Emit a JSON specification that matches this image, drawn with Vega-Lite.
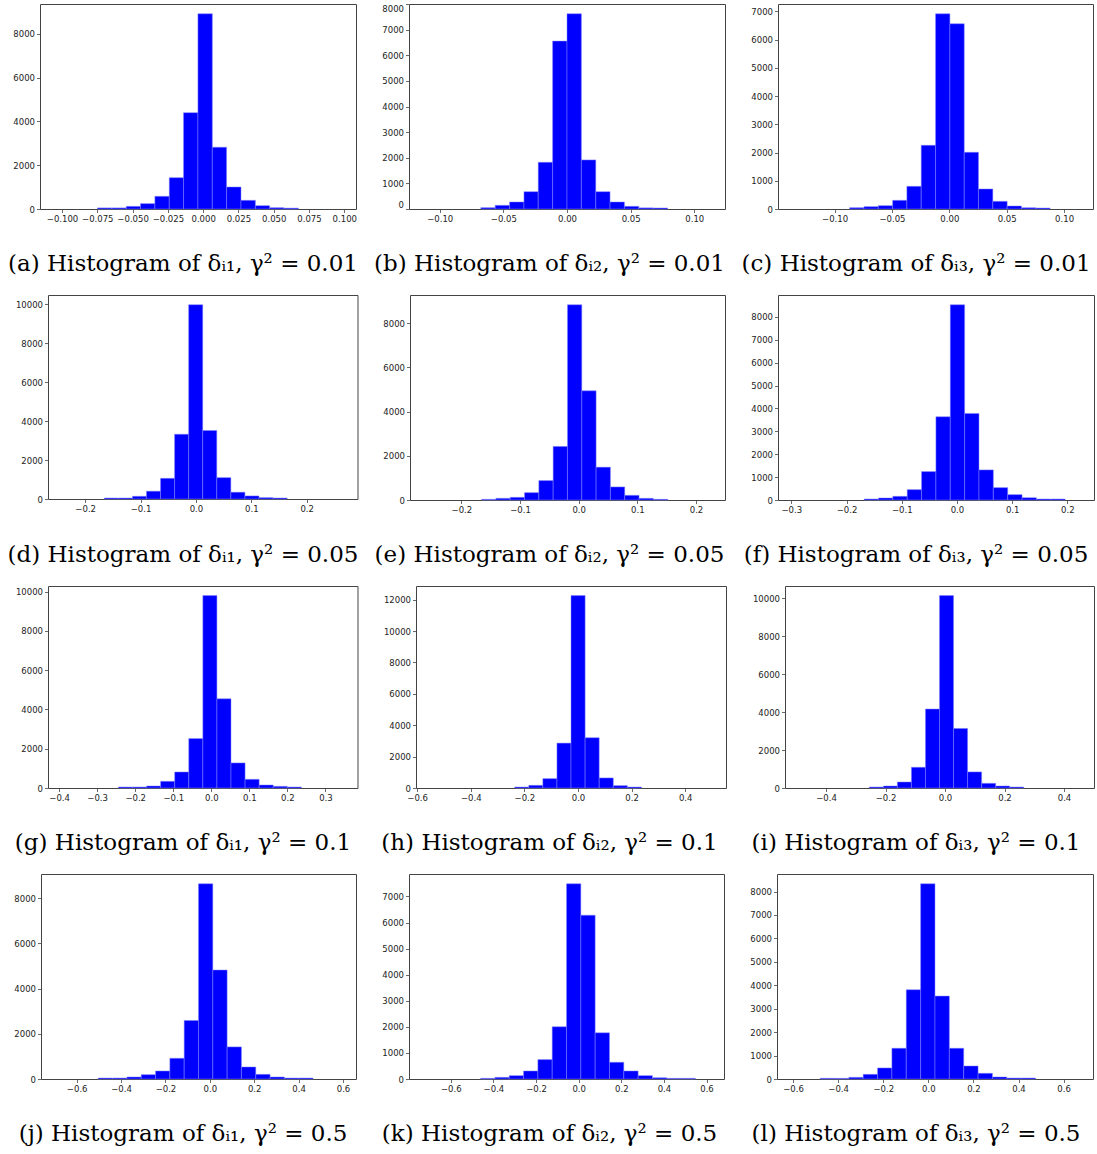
{
"$schema": "https://vega.github.io/schema/vega-lite/v6.json",
"padding": {"left": 0, "top": 3, "right": 0, "bottom": 0},
"spacing": 18,
"columns": 1,
"align": "none",
"datasets": {
"hist": [
{"panel":"a","x0":-0.0749,"x1":-0.0647,"count":50},{"panel":"a","x0":-0.0647,"x1":-0.0545,"count":50},{"panel":"a","x0":-0.0545,"x1":-0.0444,"count":120},{"panel":"a","x0":-0.0444,"x1":-0.0342,"count":245},{"panel":"a","x0":-0.0342,"x1":-0.024,"count":580},{"panel":"a","x0":-0.024,"x1":-0.0139,"count":1430},{"panel":"a","x0":-0.0139,"x1":-0.0037,"count":4400},{"panel":"a","x0":-0.0037,"x1":0.0065,"count":8915},{"panel":"a","x0":0.0065,"x1":0.0166,"count":2820},{"panel":"a","x0":0.0166,"x1":0.0268,"count":1005},{"panel":"a","x0":0.0268,"x1":0.037,"count":396},{"panel":"a","x0":0.037,"x1":0.0471,"count":152},{"panel":"a","x0":0.0471,"x1":0.0573,"count":60},{"panel":"a","x0":0.0573,"x1":0.0675,"count":40},
{"panel":"b","x0":-0.0677,"x1":-0.0564,"count":52},{"panel":"b","x0":-0.0564,"x1":-0.0451,"count":143},{"panel":"b","x0":-0.0451,"x1":-0.0338,"count":274},{"panel":"b","x0":-0.0338,"x1":-0.0226,"count":678},{"panel":"b","x0":-0.0226,"x1":-0.0113,"count":1824},{"panel":"b","x0":-0.0113,"x1":0.0,"count":6554},{"panel":"b","x0":0.0,"x1":0.0113,"count":7622},{"panel":"b","x0":0.0113,"x1":0.0226,"count":1915},{"panel":"b","x0":0.0226,"x1":0.0338,"count":678},{"panel":"b","x0":0.0338,"x1":0.0451,"count":274},{"panel":"b","x0":0.0451,"x1":0.0564,"count":104},{"panel":"b","x0":0.0564,"x1":0.0677,"count":45},{"panel":"b","x0":0.0677,"x1":0.079,"count":40},
{"panel":"c","x0":-0.0869,"x1":-0.0744,"count":47},{"panel":"c","x0":-0.0744,"x1":-0.0619,"count":83},{"panel":"c","x0":-0.0619,"x1":-0.0494,"count":118},{"panel":"c","x0":-0.0494,"x1":-0.037,"count":307},{"panel":"c","x0":-0.037,"x1":-0.0245,"count":804},{"panel":"c","x0":-0.0245,"x1":-0.012,"count":2258},{"panel":"c","x0":-0.012,"x1":0.0005,"count":6917},{"panel":"c","x0":0.0005,"x1":0.013,"count":6563},{"panel":"c","x0":0.013,"x1":0.0254,"count":2010},{"panel":"c","x0":0.0254,"x1":0.0379,"count":709},{"panel":"c","x0":0.0379,"x1":0.0504,"count":272},{"panel":"c","x0":0.0504,"x1":0.0629,"count":106},{"panel":"c","x0":0.0629,"x1":0.0754,"count":47},{"panel":"c","x0":0.0754,"x1":0.0878,"count":35},
{"panel":"d","x0":-0.1655,"x1":-0.1401,"count":52},{"panel":"d","x0":-0.1401,"x1":-0.1147,"count":52},{"panel":"d","x0":-0.1147,"x1":-0.0893,"count":139},{"panel":"d","x0":-0.0893,"x1":-0.0639,"count":400},{"panel":"d","x0":-0.0639,"x1":-0.0385,"count":1061},{"panel":"d","x0":-0.0385,"x1":-0.0131,"count":3322},{"panel":"d","x0":-0.0131,"x1":0.0123,"count":9965},{"panel":"d","x0":0.0123,"x1":0.0377,"count":3513},{"panel":"d","x0":0.0377,"x1":0.0631,"count":1096},{"panel":"d","x0":0.0631,"x1":0.0885,"count":348},{"panel":"d","x0":0.0885,"x1":0.1139,"count":157},{"panel":"d","x0":0.1139,"x1":0.1393,"count":70},{"panel":"d","x0":0.1393,"x1":0.1647,"count":52},
{"panel":"e","x0":-0.1655,"x1":-0.1411,"count":30},{"panel":"e","x0":-0.1411,"x1":-0.1167,"count":76},{"panel":"e","x0":-0.1167,"x1":-0.0923,"count":121},{"panel":"e","x0":-0.0923,"x1":-0.0679,"count":333},{"panel":"e","x0":-0.0679,"x1":-0.0435,"count":879},{"panel":"e","x0":-0.0435,"x1":-0.0191,"count":2424},{"panel":"e","x0":-0.0191,"x1":0.0053,"count":8833},{"panel":"e","x0":0.0053,"x1":0.0297,"count":4939},{"panel":"e","x0":0.0297,"x1":0.0541,"count":1485},{"panel":"e","x0":0.0541,"x1":0.0785,"count":591},{"panel":"e","x0":0.0785,"x1":0.1029,"count":212},{"panel":"e","x0":0.1029,"x1":0.1273,"count":76},{"panel":"e","x0":0.1273,"x1":0.1517,"count":30},
{"panel":"f","x0":-0.1681,"x1":-0.1421,"count":44},{"panel":"f","x0":-0.1421,"x1":-0.1161,"count":88},{"panel":"f","x0":-0.1161,"x1":-0.0901,"count":161},{"panel":"f","x0":-0.0901,"x1":-0.0641,"count":453},{"panel":"f","x0":-0.0641,"x1":-0.0381,"count":1241},{"panel":"f","x0":-0.0381,"x1":-0.0121,"count":3635},{"panel":"f","x0":-0.0121,"x1":0.0139,"count":8526},{"panel":"f","x0":0.0139,"x1":0.0399,"count":3781},{"panel":"f","x0":0.0399,"x1":0.0659,"count":1314},{"panel":"f","x0":0.0659,"x1":0.0919,"count":540},{"panel":"f","x0":0.0919,"x1":0.1179,"count":234},{"panel":"f","x0":0.1179,"x1":0.1439,"count":102},{"panel":"f","x0":0.1439,"x1":0.1699,"count":44},{"panel":"f","x0":0.1699,"x1":0.1959,"count":44},
{"panel":"g","x0":-0.2442,"x1":-0.2072,"count":51},{"panel":"g","x0":-0.2072,"x1":-0.1702,"count":51},{"panel":"g","x0":-0.1702,"x1":-0.1332,"count":102},{"panel":"g","x0":-0.1332,"x1":-0.0962,"count":340},{"panel":"g","x0":-0.0962,"x1":-0.0592,"count":816},{"panel":"g","x0":-0.0592,"x1":-0.0222,"count":2517},{"panel":"g","x0":-0.0222,"x1":0.0148,"count":9796},{"panel":"g","x0":0.0148,"x1":0.0518,"count":4541},{"panel":"g","x0":0.0518,"x1":0.0888,"count":1276},{"panel":"g","x0":0.0888,"x1":0.1258,"count":442},{"panel":"g","x0":0.1258,"x1":0.1628,"count":153},{"panel":"g","x0":0.1628,"x1":0.1998,"count":85},{"panel":"g","x0":0.1998,"x1":0.2368,"count":51},
{"panel":"h","x0":-0.2362,"x1":-0.1836,"count":64},{"panel":"h","x0":-0.1836,"x1":-0.1311,"count":171},{"panel":"h","x0":-0.1311,"x1":-0.0785,"count":598},{"panel":"h","x0":-0.0785,"x1":-0.026,"count":2861},{"panel":"h","x0":-0.026,"x1":0.0266,"count":12257},{"panel":"h","x0":0.0266,"x1":0.0791,"count":3203},{"panel":"h","x0":0.0791,"x1":0.1317,"count":641},{"panel":"h","x0":0.1317,"x1":0.1842,"count":150},{"panel":"h","x0":0.1842,"x1":0.2368,"count":64},
{"panel":"i","x0":-0.2545,"x1":-0.2073,"count":53},{"panel":"i","x0":-0.2073,"x1":-0.1601,"count":106},{"panel":"i","x0":-0.1601,"x1":-0.1129,"count":317},{"panel":"i","x0":-0.1129,"x1":-0.0657,"count":1093},{"panel":"i","x0":-0.0657,"x1":-0.0185,"count":4162},{"panel":"i","x0":-0.0185,"x1":0.0287,"count":10141},{"panel":"i","x0":0.0287,"x1":0.0759,"count":3139},{"panel":"i","x0":0.0759,"x1":0.1231,"count":847},{"panel":"i","x0":0.1231,"x1":0.1703,"count":247},{"panel":"i","x0":0.1703,"x1":0.2175,"count":106},{"panel":"i","x0":0.2175,"x1":0.2647,"count":53},
{"panel":"j","x0":-0.5027,"x1":-0.4382,"count":44},{"panel":"j","x0":-0.4382,"x1":-0.3737,"count":44},{"panel":"j","x0":-0.3737,"x1":-0.3091,"count":89},{"panel":"j","x0":-0.3091,"x1":-0.2446,"count":192},{"panel":"j","x0":-0.2446,"x1":-0.1801,"count":355},{"panel":"j","x0":-0.1801,"x1":-0.1156,"count":917},{"panel":"j","x0":-0.1156,"x1":-0.0511,"count":2589},{"panel":"j","x0":-0.0511,"x1":0.0134,"count":8639},{"panel":"j","x0":0.0134,"x1":0.0779,"count":4822},{"panel":"j","x0":0.0779,"x1":0.1424,"count":1420},{"panel":"j","x0":0.1424,"x1":0.207,"count":533},{"panel":"j","x0":0.207,"x1":0.2715,"count":207},{"panel":"j","x0":0.2715,"x1":0.336,"count":89},{"panel":"j","x0":0.336,"x1":0.4005,"count":44},{"panel":"j","x0":0.4005,"x1":0.465,"count":44},
{"panel":"k","x0":-0.4602,"x1":-0.393,"count":26},{"panel":"k","x0":-0.393,"x1":-0.3258,"count":64},{"panel":"k","x0":-0.3258,"x1":-0.2586,"count":128},{"panel":"k","x0":-0.2586,"x1":-0.1914,"count":308},{"panel":"k","x0":-0.1914,"x1":-0.1242,"count":745},{"panel":"k","x0":-0.1242,"x1":-0.057,"count":2004},{"panel":"k","x0":-0.057,"x1":0.0102,"count":7488},{"panel":"k","x0":0.0102,"x1":0.0774,"count":6281},{"panel":"k","x0":0.0774,"x1":0.1446,"count":1772},{"panel":"k","x0":0.1446,"x1":0.2118,"count":642},{"panel":"k","x0":0.2118,"x1":0.279,"count":308},{"panel":"k","x0":0.279,"x1":0.3462,"count":128},{"panel":"k","x0":0.3462,"x1":0.4134,"count":51},{"panel":"k","x0":0.4134,"x1":0.4806,"count":26},{"panel":"k","x0":0.4806,"x1":0.5478,"count":26},
{"panel":"l","x0":-0.48,"x1":-0.4163,"count":29},{"panel":"l","x0":-0.4163,"x1":-0.3526,"count":29},{"panel":"l","x0":-0.3526,"x1":-0.2889,"count":71},{"panel":"l","x0":-0.2889,"x1":-0.2252,"count":200},{"panel":"l","x0":-0.2252,"x1":-0.1615,"count":471},{"panel":"l","x0":-0.1615,"x1":-0.0978,"count":1312},{"panel":"l","x0":-0.0978,"x1":-0.0341,"count":3809},{"panel":"l","x0":-0.0341,"x1":0.0296,"count":8331},{"panel":"l","x0":0.0296,"x1":0.0933,"count":3538},{"panel":"l","x0":0.0933,"x1":0.157,"count":1312},{"panel":"l","x0":0.157,"x1":0.2207,"count":556},{"panel":"l","x0":0.2207,"x1":0.2844,"count":243},{"panel":"l","x0":0.2844,"x1":0.3481,"count":86},{"panel":"l","x0":0.3481,"x1":0.4118,"count":43},{"panel":"l","x0":0.4118,"x1":0.4755,"count":43}
],
"captions": [
{"row":1,"col":1,"label":"(a) Histogram of δᵢ₁, γ² = 0.01"},{"row":1,"col":2,"label":"(b) Histogram of δᵢ₂, γ² = 0.01"},{"row":1,"col":3,"label":"(c) Histogram of δᵢ₃, γ² = 0.01"},
{"row":2,"col":1,"label":"(d) Histogram of δᵢ₁, γ² = 0.05"},{"row":2,"col":2,"label":"(e) Histogram of δᵢ₂, γ² = 0.05"},{"row":2,"col":3,"label":"(f) Histogram of δᵢ₃, γ² = 0.05"},
{"row":3,"col":1,"label":"(g) Histogram of δᵢ₁, γ² = 0.1"},{"row":3,"col":2,"label":"(h) Histogram of δᵢ₂, γ² = 0.1"},{"row":3,"col":3,"label":"(i) Histogram of δᵢ₃, γ² = 0.1"},
{"row":4,"col":1,"label":"(j) Histogram of δᵢ₁, γ² = 0.5"},{"row":4,"col":2,"label":"(k) Histogram of δᵢ₂, γ² = 0.5"},{"row":4,"col":3,"label":"(l) Histogram of δᵢ₃, γ² = 0.5"}
]
},
"concat": [
{"hconcat": [
{"width":12,"height":10,"view":{"stroke":null},"data":{"values":[]},"mark":"rect"},
{"hconcat": [
{"width":316,"height":205,"data":{"name":"hist"},"transform":[{"filter":"datum.panel==='a'"}],"mark":"bar","encoding":{"x":{"field":"x0","type":"quantitative","scale":{"domain":[-0.1156,0.1083],"nice":false,"zero":false},"axis":{"values":[-0.1,-0.075,-0.05,-0.025,0,0.025,0.05,0.075,0.1],"format":".3f"}},"x2":{"field":"x1"},"y":{"field":"count","type":"quantitative","scale":{"domain":[0,9361],"nice":false},"axis":{"values":[0,2000,4000,6000,8000],"format":"d"}},"y2":{"datum":0}}},
{"width":316,"height":205,"data":{"name":"hist"},"transform":[{"filter":"datum.panel==='b'"}],"mark":"bar","encoding":{"x":{"field":"x0","type":"quantitative","scale":{"domain":[-0.1241,0.1241],"nice":false,"zero":false},"axis":{"values":[-0.1,-0.05,0,0.05,0.1],"format":".2f"}},"x2":{"field":"x1"},"y":{"field":"count","type":"quantitative","scale":{"domain":[0,8003],"nice":false},"axis":{"values":[0,1000,2000,3000,4000,5000,6000,7000,8000],"format":"d","labelFlush":1}},"y2":{"datum":0}}},
{"width":315,"height":205,"data":{"name":"hist"},"transform":[{"filter":"datum.panel==='c'"}],"mark":"bar","encoding":{"x":{"field":"x0","type":"quantitative","scale":{"domain":[-0.1493,0.1252],"nice":false,"zero":false},"axis":{"values":[-0.1,-0.05,0,0.05,0.1],"format":".2f"}},"x2":{"field":"x1"},"y":{"field":"count","type":"quantitative","scale":{"domain":[0,7263],"nice":false},"axis":{"values":[0,1000,2000,3000,4000,5000,6000,7000],"format":"d"}},"y2":{"datum":0}}}
], "spacing": 24}
], "spacing": 0},
{"width":1090,"height":21,"view":{"stroke":null},"data":{"name":"captions"},"transform":[{"filter":"datum.row===1"}],"mark":{"type":"text","baseline":"top"},"encoding":{"x":{"field":"col","type":"quantitative","scale":{"domain":[0.5007,3.4747],"nice":false,"zero":false},"axis":null},"text":{"field":"label"}}},
{"hconcat": [
{"width":13.5,"height":10,"view":{"stroke":null},"data":{"values":[]},"mark":"rect"},
{"hconcat": [
{"width":309.5,"height":204,"data":{"name":"hist"},"transform":[{"filter":"datum.panel==='d'"}],"mark":"bar","encoding":{"x":{"field":"x0","type":"quantitative","scale":{"domain":[-0.2671,0.2918],"nice":false,"zero":false},"axis":{"values":[-0.2,-0.1,0,0.1,0.2],"format":".1f"}},"x2":{"field":"x1"},"y":{"field":"count","type":"quantitative","scale":{"domain":[0,10463],"nice":false},"axis":{"values":[0,2000,4000,6000,8000,10000],"format":"d"}},"y2":{"datum":0}}},
{"width":315,"height":205,"data":{"name":"hist"},"transform":[{"filter":"datum.panel==='e'"}],"mark":"bar","encoding":{"x":{"field":"x0","type":"quantitative","scale":{"domain":[-0.2875,0.2494],"nice":false,"zero":false},"axis":{"values":[-0.2,-0.1,0,0.1,0.2],"format":".1f"}},"x2":{"field":"x1"},"y":{"field":"count","type":"quantitative","scale":{"domain":[0,9275],"nice":false},"axis":{"values":[0,2000,4000,6000,8000],"format":"d"}},"y2":{"datum":0}}},
{"width":316,"height":205,"data":{"name":"hist"},"transform":[{"filter":"datum.panel==='f'"}],"mark":"bar","encoding":{"x":{"field":"x0","type":"quantitative","scale":{"domain":[-0.3241,0.2482],"nice":false,"zero":false},"axis":{"values":[-0.3,-0.2,-0.1,0,0.1,0.2],"format":".1f"}},"x2":{"field":"x1"},"y":{"field":"count","type":"quantitative","scale":{"domain":[0,8952],"nice":false},"axis":{"values":[0,1000,2000,3000,4000,5000,6000,7000,8000],"format":"d"}},"y2":{"datum":0}}}
], "spacing": 24}
], "spacing": 0},
{"width":1090,"height":21,"view":{"stroke":null},"data":{"name":"captions"},"transform":[{"filter":"datum.row===2"}],"mark":{"type":"text","baseline":"top"},"encoding":{"x":{"field":"col","type":"quantitative","scale":{"domain":[0.5007,3.4747],"nice":false,"zero":false},"axis":null},"text":{"field":"label"}}},
{"hconcat": [
{"width":13.5,"height":10,"view":{"stroke":null},"data":{"values":[]},"mark":"rect"},
{"hconcat": [
{"width":309.5,"height":202,"data":{"name":"hist"},"transform":[{"filter":"datum.panel==='g'"}],"mark":"bar","encoding":{"x":{"field":"x0","type":"quantitative","scale":{"domain":[-0.4292,0.3843],"nice":false,"zero":false},"axis":{"values":[-0.4,-0.3,-0.2,-0.1,0,0.1,0.2,0.3],"format":".1f"}},"x2":{"field":"x1"},"y":{"field":"count","type":"quantitative","scale":{"domain":[0,10286],"nice":false},"axis":{"values":[0,2000,4000,6000,8000,10000],"format":"d"}},"y2":{"datum":0}}},
{"width":310,"height":202,"data":{"name":"hist"},"transform":[{"filter":"datum.panel==='h'"}],"mark":"bar","encoding":{"x":{"field":"x0","type":"quantitative","scale":{"domain":[-0.6042,0.5521],"nice":false,"zero":false},"axis":{"values":[-0.6,-0.4,-0.2,0,0.2,0.4],"format":".1f"}},"x2":{"field":"x1"},"y":{"field":"count","type":"quantitative","scale":{"domain":[0,12870],"nice":false},"axis":{"values":[0,2000,4000,6000,8000,10000,12000],"format":"d"}},"y2":{"datum":0}}},
{"width":309,"height":202,"data":{"name":"hist"},"transform":[{"filter":"datum.panel==='i'"}],"mark":"bar","encoding":{"x":{"field":"x0","type":"quantitative","scale":{"domain":[-0.5378,0.5008],"nice":false,"zero":false},"axis":{"values":[-0.4,-0.2,0,0.2,0.4],"format":".1f"}},"x2":{"field":"x1"},"y":{"field":"count","type":"quantitative","scale":{"domain":[0,10648],"nice":false},"axis":{"values":[0,2000,4000,6000,8000,10000],"format":"d"}},"y2":{"datum":0}}}
], "spacing": 24}
], "spacing": 0},
{"width":1090,"height":21,"view":{"stroke":null},"data":{"name":"captions"},"transform":[{"filter":"datum.row===3"}],"mark":{"type":"text","baseline":"top"},"encoding":{"x":{"field":"col","type":"quantitative","scale":{"domain":[0.5007,3.4747],"nice":false,"zero":false},"axis":null},"text":{"field":"label"}}},
{"hconcat": [
{"width":13,"height":10,"view":{"stroke":null},"data":{"values":[]},"mark":"rect"},
{"hconcat": [
{"width":315,"height":205,"data":{"name":"hist"},"transform":[{"filter":"datum.panel==='j'"}],"mark":"bar","encoding":{"x":{"field":"x0","type":"quantitative","scale":{"domain":[-0.7607,0.6586],"nice":false,"zero":false},"axis":{"values":[-0.6,-0.4,-0.2,0,0.2,0.4,0.6],"format":".1f"}},"x2":{"field":"x1"},"y":{"field":"count","type":"quantitative","scale":{"domain":[0,9071],"nice":false},"axis":{"values":[0,2000,4000,6000,8000],"format":"d"}},"y2":{"datum":0}}},
{"width":315,"height":205,"data":{"name":"hist"},"transform":[{"filter":"datum.panel==='k'"}],"mark":"bar","encoding":{"x":{"field":"x0","type":"quantitative","scale":{"domain":[-0.7962,0.682],"nice":false,"zero":false},"axis":{"values":[-0.8,-0.6,-0.4,-0.2,0,0.2,0.4,0.6],"format":".1f"}},"x2":{"field":"x1"},"y":{"field":"count","type":"quantitative","scale":{"domain":[0,7862],"nice":false},"axis":{"values":[0,1000,2000,3000,4000,5000,6000,7000],"format":"d"}},"y2":{"datum":0}}},
{"width":316,"height":205,"data":{"name":"hist"},"transform":[{"filter":"datum.panel==='l'"}],"mark":"bar","encoding":{"x":{"field":"x0","type":"quantitative","scale":{"domain":[-0.6711,0.7304],"nice":false,"zero":false},"axis":{"values":[-0.6,-0.4,-0.2,0,0.2,0.4,0.6],"format":".1f"}},"x2":{"field":"x1"},"y":{"field":"count","type":"quantitative","scale":{"domain":[0,8748],"nice":false},"axis":{"values":[0,1000,2000,3000,4000,5000,6000,7000,8000],"format":"d"}},"y2":{"datum":0}}}
], "spacing": 24}
], "spacing": 0},
{"width":1090,"height":21,"view":{"stroke":null},"data":{"name":"captions"},"transform":[{"filter":"datum.row===4"}],"mark":{"type":"text","baseline":"top"},"encoding":{"x":{"field":"col","type":"quantitative","scale":{"domain":[0.5007,3.4747],"nice":false,"zero":false},"axis":null},"text":{"field":"label"}}}
],
"config": {
"view": {"stroke": "#444444", "strokeWidth": 1},
"axis": {"title": null, "grid": false, "domain": false, "ticks": true, "tickColor": "#444444", "tickSize": 3.5, "tickWidth": 0.8, "labelFont": "DejaVu Sans", "labelFontSize": 8.5, "labelColor": "#222222", "labelPadding": 2, "labelFlush": false, "labelOverlap": false, "labelBound": false},
"bar": {"color": "#0000ff", "stroke": "#8080ff", "strokeWidth": 0.5},
"text": {"font": "DejaVu Serif", "fontSize": 23, "color": "#000000"}
}
}
